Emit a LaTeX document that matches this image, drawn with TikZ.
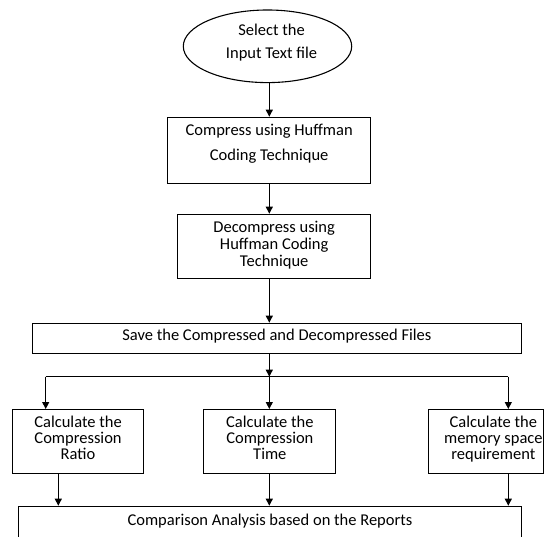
\documentclass[tikz,border=0pt]{standalone}
\usepackage{fontspec}
\setmainfont{Carlito}
\usetikzlibrary{shapes.geometric,arrows.meta}
\newcommand\boxtxt[6][0pt]{\begin{minipage}[c][#3][t]{#2}\fontsize{16.5}{#5}\selectfont\centering\leftskip=#1 plus 1fil\relax\vspace*{#4}#6\par\end{minipage}}
\begin{document}
\begin{tikzpicture}[x=1pt,y=-1pt,line width=1pt,
  bx/.style={draw, inner sep=0pt, anchor=north west, line width=1.1pt},
  arr/.style={-{Triangle[length=7pt,width=7pt]}, line width=1.1pt}]
\useasboundingbox (0,0) rectangle (549,537);
\clip (0,0) rectangle (549,537);
\node[draw, ellipse, line width=1.1pt, minimum width=168.4pt, minimum height=72.6pt, inner sep=0pt] (sel) at (267.5,46.3)
  {\boxtxt[8pt]{110pt}{46pt}{0.7pt}{23pt}{Select the\\Input Text file}};
\node[bx] (cmp) at (167.3,116.7) {\boxtxt{202.7pt}{66pt}{7.3pt}{25pt}{Compress using Huffman\\Coding Technique}};
\node[bx] (dec) at (177.3,213.7) {\boxtxt{192.7pt}{64.6pt}{7pt}{16.8pt}{Decompress using\\Huffman Coding\\Technique}};
\node[bx] (sav) at (32,322.7) {\boxtxt{488.7pt}{30.6pt}{5.3pt}{16.8pt}{Save the Compressed and Decompressed Files}};
\node[bx] (rat) at (11.7,409) {\boxtxt{131.6pt}{63.7pt}{6.7pt}{16pt}{Calculate the\\Compression\\Ratio}};
\node[bx] (tim) at (203.3,409) {\boxtxt{132pt}{63.7pt}{6.7pt}{16pt}{Calculate the\\Compression\\Time}};
\node[bx] (mem) at (428.3,409) {\boxtxt[14pt]{115pt}{63.7pt}{6.7pt}{16pt}{Calculate the\\memory space\\requirement}};
\node[bx] (rep) at (18.3,505.7) {\boxtxt{502.2pt}{40pt}{7.3pt}{16.8pt}{Comparison Analysis based on the Reports}};
\coordinate (col) at (269.3,0);
\coordinate (j) at (269.3,376.7);
\coordinate (bl) at (45.7,376.7);
\coordinate (br) at (508.3,376.7);
\coordinate (o4) at (58.3,0);
\coordinate (o6) at (508.3,0);
\draw[arr] (sel.south -| col) -- (cmp.north -| col);
\draw[arr] (cmp.south -| col) -- (dec.north -| col);
\draw[arr] (dec.south -| col) -- (sav.north -| col);
\draw[arr] (sav.south -| col) -- (j);
\draw[line width=1.1pt] (bl) -- (br);
\draw[arr] (bl) -- (bl |- rat.north);
\draw[arr] (j) -- (tim.north -| col);
\draw[arr] (br) -- (br |- mem.north);
\draw[arr] (rat.south -| o4) -- (rep.north -| o4);
\draw[arr] (tim.south -| col) -- (rep.north -| col);
\draw[arr] (mem.south -| o6) -- (rep.north -| o6);
\end{tikzpicture}
\end{document}
